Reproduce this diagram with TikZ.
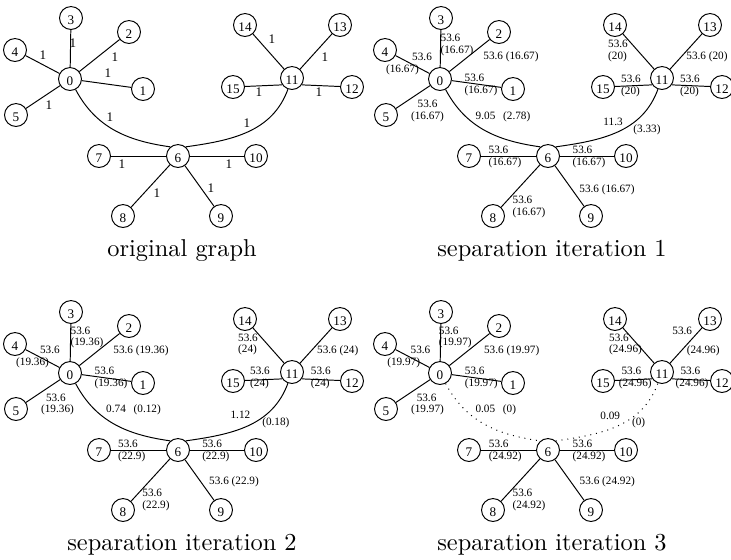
\documentclass[tikz,border=0pt]{standalone}
\usepackage{fontspec}
\newfontfamily\figfont{Liberation Serif}
\usetikzlibrary{calc}

% vertex positions (same in every panel) and the straight spokes
\def\vertexlist{0/70/79,1/143/89,2/129/32,3/71/18,4/15/50,5/16/115,
  6/178/156,7/99/156,8/123/216,9/221/216,10/256/156,
  11/292/78,12/352/87,13/340/25,14/245/25,15/233/87}
\def\spokelist{0/1,0/2,0/3,0/4,0/5,6/7,6/8,6/9,6/10,11/13,11/14}
\newcommand\drawgraph[2]{%
  \foreach \n/\x/\y in \vertexlist
    \node[vertex] (#1\n) at (\x,\y) {\n};
  \foreach \ea/\eb in \spokelist
    \draw[edge] (#1\ea) -- (#1\eb);
  \draw[edge] (#115) -- (#111.215) (#111.-35) -- (#112);
  \draw[edge,#2] (#10) to[out=-62,in=172] (#16.130);
  \draw[edge,#2] (#16.50) to[out=8,in=-110] (#111);
}

\begin{document}
\begin{tikzpicture}[
    x=0.41pt,y=-0.41pt,
    vertex/.style={draw,circle,minimum size=9.4pt,inner sep=0pt,line width=0.4pt,
      font=\figfont\fontsize{5.4}{5.4}\selectfont,text height=5pt,text depth=0pt},
    edge/.style={line width=0.4pt},
    weight/.style={inner sep=0pt,align=left,font=\figfont\fontsize{4.6}{4.8}\selectfont},
    unit weight/.style={inner sep=0pt,font=\figfont\fontsize{5.4}{5.4}\selectfont},
    caption/.style={anchor=base,font=\fontsize{10}{12}\selectfont}
  ]
  \useasboundingbox (0,0) rectangle (731,559);

  % original graph
  \begin{scope}
    \drawgraph{a}{solid}
    \foreach \e/\x/\y in {03/73/43,02/115/57,04/43/55,01/108/73,05/49/105,
        06/110/117,611/247/123,1114/272/39,1113/325/57,1115/259/92,
        1112/319/92,67/122/164,610/229/164,68/157/193,69/211/188}
      \node[unit weight] (a\e) at (\x,\y) {1};
    \node[caption] (acap) at (182,256) {original graph};
  \end{scope}

  % separation iteration 1
  \begin{scope}[shift={(370,0)}]
    \drawgraph{b}{solid}
    \foreach \e/\x/\y/\w in {03/87/45/{53.6\\(16.67)},
        02/141/57/{53.6 (16.67)},
        04/39/64/{\hspace*{10.7pt}53.6\\(16.67)},
        01/111/85/{53.6\\(16.67)},
        05/57.5/111/{\hspace*{2.7pt}53.6\\(16.67)},
        06/133/117/{9.05\hspace{3.2pt}(2.78)},
        611/262/126.5/{11.3\\[-1.9pt]\hspace*{12.3pt}(3.33)},
        1114/248/51/{53.6\\(20)},
        1113/337/57/{53.6 (20)},
        1115/261/86/{53.6\\(20)},
        1112/320/86/{53.6\\(20)},
        67/135/157/{53.6\\(16.67)},
        610/219/157/{53.6\\(16.67)},
        69/237/190/{53.6 (16.67)},
        68/159/207/{53.6\\(16.67)}}
      \node[weight] (b\e) at (\x,\y) {\w};
    \node[caption] (bcap) at (182,256) {separation iteration 1};
  \end{scope}

  % separation iteration 2
  \begin{scope}[shift={(0,294)}]
    \drawgraph{c}{solid}
    \foreach \e/\x/\y/\w in {03/87/43.5/{53.6\\(19.36)},
        02/141/56.7/{53.6 (19.36)},
        04/38/62.7/{\hspace*{9.8pt}53.6\\(19.36)},
        01/111/83.8/{53.6\\(19.36)},
        05/57.5/110.5/{\hspace*{2pt}53.6\\(19.36)},
        06/133.5/116/{0.74\hspace{3.2pt}(0.12)},
        611/260/125.3/{1.12\\[-2.1pt]\hspace*{13pt}(0.18)},
        1114/248/50.5/{53.6\\(24)},
        1113/337.7/56.7/{53.6 (24)},
        1115/260/84.3/{53.6\\(24)},
        1112/320.8/84.3/{53.6\\(24)},
        67/131.7/157/{53.6\\(22.9)},
        610/215.8/157/{53.6\\(22.9)},
        69/234/187.7/{53.6 (22.9)},
        68/156/205.7/{53.6\\(22.9)}}
      \node[weight] (c\e) at (\x,\y) {\w};
    \node[caption] (ccap) at (182,256) {separation iteration 2};
  \end{scope}

  % separation iteration 3
  \begin{scope}[shift={(370,294)}]
    \drawgraph{d}{dotted}
    \foreach \e/\x/\y/\w in {03/85.3/43.5/{53.6\\(19.97)},
        02/141.7/56.7/{53.6 (19.97)},
        04/38.8/62.7/{\hspace*{9.6pt}53.6\\(19.97)},
        01/111.3/83.8/{53.6\\(19.97)},
        05/57.5/110.5/{\hspace*{2.3pt}53.6\\(19.97)},
        06/125.8/116/{0.05\hspace{3.2pt}(0)},
        611/252.8/126/{0.09\\[-2.1pt]\hspace*{13pt}(0)},
        1114/255.5/50.5/{53.6\\(24.96)},
        1113/326/47.2/{53.6\\[2.9pt]\hspace*{5.9pt}(24.96)},
        1115/265.3/84.3/{\hspace*{1.1pt}53.6\\(24.96)},
        1112/322/84.3/{\hspace*{2pt}53.6\\(24.96)},
        67/135.3/157/{53.6\\(24.92)},
        610/219/157/{53.6\\(24.92)},
        69/237.3/187.7/{53.6 (24.92)},
        68/159/205.7/{53.6\\(24.92)}}
      \node[weight] (d\e) at (\x,\y) {\w};
    \node[caption] (dcap) at (182,256) {separation iteration 3};
  \end{scope}
\end{tikzpicture}
\end{document}
